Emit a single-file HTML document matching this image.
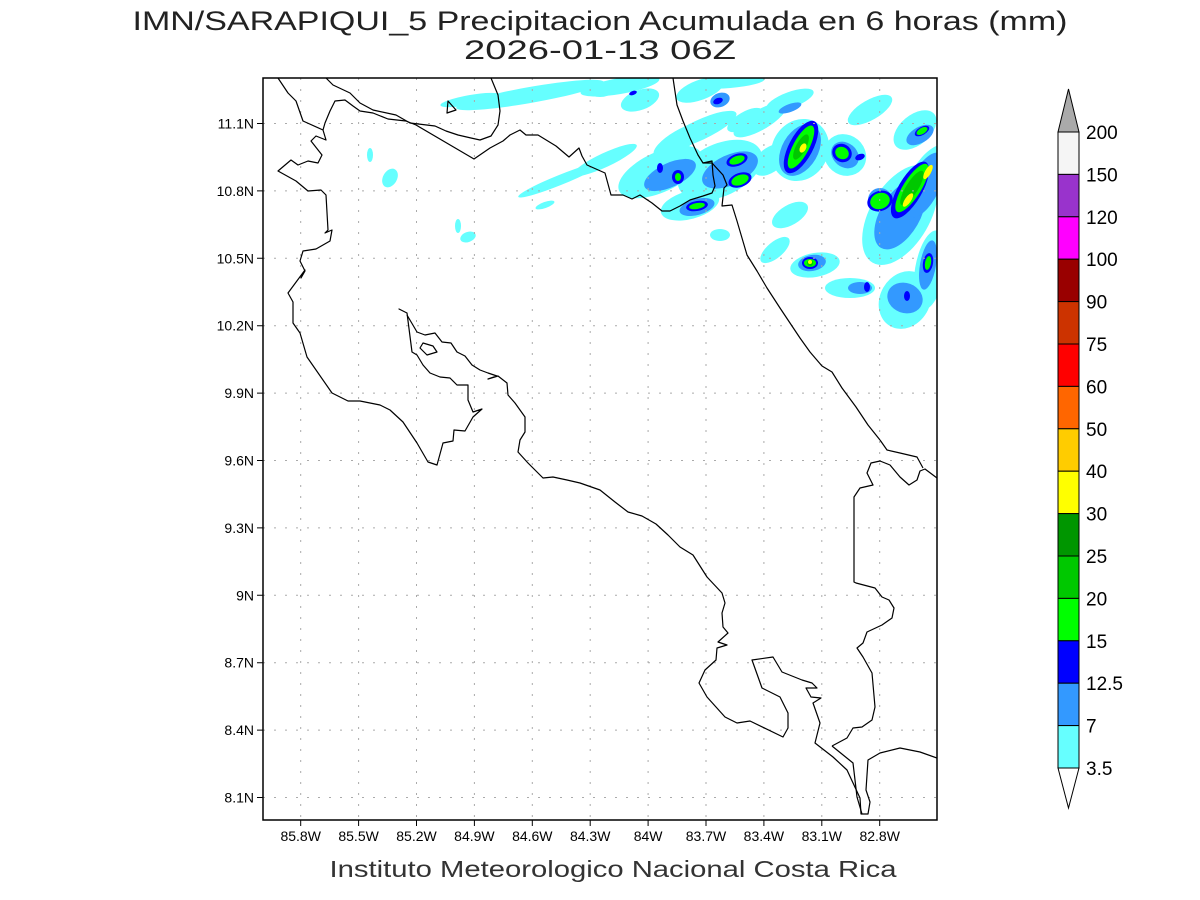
<!DOCTYPE html>
<html><head><meta charset="utf-8"><style>
html,body{margin:0;padding:0;background:#fff;}
svg{display:block;font-family:"Liberation Sans",sans-serif;}
</style></head><body>
<svg width="1200" height="900" viewBox="0 0 1200 900" xmlns="http://www.w3.org/2000/svg">
<rect width="1200" height="900" fill="#fff"/>
<text x="600" y="30" font-size="27" text-anchor="middle" textLength="935" lengthAdjust="spacingAndGlyphs" fill="#222">IMN/SARAPIQUI_5 Precipitacion Acumulada en 6 horas (mm)</text>
<text x="600" y="59" font-size="27" text-anchor="middle" textLength="272" lengthAdjust="spacingAndGlyphs" fill="#222">2026-01-13 06Z</text>
<defs><clipPath id="c"><rect x="263" y="78" width="674" height="742"/></clipPath></defs>
<g clip-path="url(#c)">
<g fill="#66ffff">
<ellipse cx="530" cy="95" rx="75" ry="8" transform="rotate(-10 530 95)"/>
<ellipse cx="620" cy="86" rx="40" ry="8" transform="rotate(-10 620 86)"/>
<ellipse cx="700" cy="90" rx="25" ry="10" transform="rotate(-20 700 90)"/>
<ellipse cx="730" cy="82" rx="35" ry="6" transform="rotate(-5 730 82)"/>
<ellipse cx="560" cy="180" rx="45" ry="5" transform="rotate(-22 560 180)"/>
<ellipse cx="605" cy="160" rx="35" ry="7" transform="rotate(-25 605 160)"/>
<ellipse cx="470" cy="100" rx="30" ry="5" transform="rotate(-10 470 100)"/>
<ellipse cx="660" cy="172" rx="45" ry="20" transform="rotate(-25 660 172)"/>
<ellipse cx="720" cy="170" rx="45" ry="26" transform="rotate(-25 720 170)"/>
<ellipse cx="690" cy="205" rx="30" ry="14" transform="rotate(-15 690 205)"/>
<ellipse cx="680" cy="140" rx="30" ry="10" transform="rotate(-30 680 140)"/>
<ellipse cx="700" cy="130" rx="40" ry="10" transform="rotate(-25 700 130)"/>
<ellipse cx="760" cy="120" rx="30" ry="10" transform="rotate(-30 760 120)"/>
<ellipse cx="800" cy="150" rx="32" ry="28" transform="rotate(-60 800 150)"/>
<ellipse cx="770" cy="160" rx="20" ry="12" transform="rotate(-40 770 160)"/>
<ellipse cx="845" cy="155" rx="20" ry="22" transform="rotate(-50 845 155)"/>
<ellipse cx="790" cy="100" rx="25" ry="8" transform="rotate(-20 790 100)"/>
<ellipse cx="870" cy="110" rx="25" ry="10" transform="rotate(-30 870 110)"/>
<ellipse cx="915" cy="130" rx="25" ry="15" transform="rotate(-40 915 130)"/>
<ellipse cx="900" cy="215" rx="55" ry="30" transform="rotate(-60 900 215)"/>
<ellipse cx="930" cy="180" rx="40" ry="20" transform="rotate(-60 930 180)"/>
<ellipse cx="905" cy="300" rx="30" ry="25" transform="rotate(-60 905 300)"/>
<ellipse cx="930" cy="270" rx="40" ry="15" transform="rotate(-80 930 270)"/>
<ellipse cx="815" cy="265" rx="25" ry="12" transform="rotate(-10 815 265)"/>
<ellipse cx="850" cy="288" rx="25" ry="10"/>
<ellipse cx="775" cy="250" rx="18" ry="8" transform="rotate(-40 775 250)"/>
<ellipse cx="790" cy="215" rx="20" ry="10" transform="rotate(-30 790 215)"/>
<ellipse cx="720" cy="235" rx="10" ry="6"/>
<ellipse cx="745" cy="120" rx="20" ry="8" transform="rotate(-30 745 120)"/>
<ellipse cx="640" cy="100" rx="20" ry="10" transform="rotate(-20 640 100)"/>
<ellipse cx="390" cy="178" rx="7" ry="10" transform="rotate(30 390 178)"/>
<ellipse cx="370" cy="155" rx="3" ry="7"/>
<ellipse cx="468" cy="237" rx="8" ry="5" transform="rotate(-20 468 237)"/>
<ellipse cx="458" cy="226" rx="3" ry="7"/>
<ellipse cx="545" cy="205" rx="10" ry="3" transform="rotate(-20 545 205)"/>
<ellipse cx="600" cy="93" rx="10" ry="4"/>
</g>
<g fill="#3399ff">
<ellipse cx="670" cy="175" rx="28" ry="12" transform="rotate(-25 670 175)"/>
<ellipse cx="730" cy="170" rx="30" ry="15" transform="rotate(-25 730 170)"/>
<ellipse cx="697" cy="207" rx="18" ry="8" transform="rotate(-15 697 207)"/>
<ellipse cx="800" cy="150" rx="28" ry="18" transform="rotate(-60 800 150)"/>
<ellipse cx="845" cy="155" rx="12" ry="15" transform="rotate(-50 845 155)"/>
<ellipse cx="900" cy="215" rx="38" ry="20" transform="rotate(-60 900 215)"/>
<ellipse cx="925" cy="185" rx="35" ry="15" transform="rotate(-65 925 185)"/>
<ellipse cx="905" cy="298" rx="15" ry="18" transform="rotate(-70 905 298)"/>
<ellipse cx="928" cy="265" rx="25" ry="8" transform="rotate(-80 928 265)"/>
<ellipse cx="812" cy="263" rx="14" ry="8" transform="rotate(-10 812 263)"/>
<ellipse cx="860" cy="288" rx="12" ry="6"/>
<ellipse cx="720" cy="100" rx="10" ry="7" transform="rotate(-20 720 100)"/>
<ellipse cx="880" cy="200" rx="12" ry="12"/>
<ellipse cx="920" cy="135" rx="15" ry="8" transform="rotate(-30 920 135)"/>
<ellipse cx="790" cy="108" rx="12" ry="4" transform="rotate(-20 790 108)"/>
</g>
<g fill="#0000ff">
<ellipse cx="678" cy="177" rx="6" ry="7"/>
<ellipse cx="660" cy="168" rx="3" ry="5"/>
<ellipse cx="737" cy="160" rx="11" ry="6" transform="rotate(-20 737 160)"/>
<ellipse cx="740" cy="180" rx="12" ry="7" transform="rotate(-20 740 180)"/>
<ellipse cx="697" cy="206" rx="11" ry="5" transform="rotate(-10 697 206)"/>
<ellipse cx="801" cy="147" rx="29" ry="12" transform="rotate(-62 801 147)"/>
<ellipse cx="842" cy="153" rx="9" ry="10" transform="rotate(-60 842 153)"/>
<ellipse cx="860" cy="157" rx="5" ry="3" transform="rotate(-20 860 157)"/>
<ellipse cx="880" cy="201" rx="13" ry="10" transform="rotate(-20 880 201)"/>
<ellipse cx="910" cy="190" rx="32" ry="12" transform="rotate(-60 910 190)"/>
<ellipse cx="922" cy="131" rx="8" ry="4" transform="rotate(-30 922 131)"/>
<ellipse cx="810" cy="263" rx="8" ry="6"/>
<ellipse cx="867" cy="287" rx="3" ry="5"/>
<ellipse cx="928" cy="263" rx="10" ry="5" transform="rotate(-80 928 263)"/>
<ellipse cx="907" cy="296" rx="3" ry="5"/>
<ellipse cx="718" cy="101" rx="5" ry="3" transform="rotate(-20 718 101)"/>
<ellipse cx="633" cy="93" rx="4" ry="2" transform="rotate(-20 633 93)"/>
</g>
<g fill="#00ff00">
<ellipse cx="678" cy="177" rx="3" ry="4"/>
<ellipse cx="737" cy="160" rx="8" ry="4" transform="rotate(-20 737 160)"/>
<ellipse cx="740" cy="180" rx="9" ry="5" transform="rotate(-20 740 180)"/>
<ellipse cx="697" cy="206" rx="8" ry="3" transform="rotate(-10 697 206)"/>
<ellipse cx="801" cy="147" rx="24" ry="8" transform="rotate(-62 801 147)"/>
<ellipse cx="842" cy="153" rx="6" ry="7" transform="rotate(-60 842 153)"/>
<ellipse cx="880" cy="201" rx="10" ry="8" transform="rotate(-20 880 201)"/>
<ellipse cx="912" cy="188" rx="28" ry="9" transform="rotate(-58 912 188)"/>
<ellipse cx="922" cy="131" rx="6" ry="3" transform="rotate(-30 922 131)"/>
<ellipse cx="810" cy="263" rx="6" ry="4"/>
<ellipse cx="928" cy="263" rx="7" ry="3" transform="rotate(-80 928 263)"/>
</g>
<g fill="#00c800">
<ellipse cx="801" cy="147" rx="14" ry="5" transform="rotate(-62 801 147)"/>
<ellipse cx="912" cy="188" rx="20" ry="6" transform="rotate(-58 912 188)"/>
<ellipse cx="810" cy="263" rx="3" ry="3"/>
</g>
<g fill="#ffff00">
<ellipse cx="803" cy="148" rx="5" ry="3" transform="rotate(-62 803 148)"/>
<ellipse cx="908" cy="200" rx="8" ry="3" transform="rotate(-55 908 200)"/>
<ellipse cx="928" cy="172" rx="8" ry="3" transform="rotate(-60 928 172)"/>
<ellipse cx="810" cy="262" rx="2" ry="2"/>
</g>
</g>
<g stroke="#aaa" stroke-width="1" stroke-dasharray="2,9" fill="none">
<path d="M300.7 78V820M358.6 78V820M416.5 78V820M474.4 78V820M532.3 78V820M590.2 78V820M648.1 78V820M706 78V820M763.9 78V820M821.8 78V820M879.7 78V820"/>
<path d="M263 123.5H937M263 190.9H937M263 258.3H937M263 325.7H937M263 393.1H937M263 460.5H937M263 527.9H937M263 595.3H937M263 662.7H937M263 730.1H937M263 797.5H937"/>
</g>
<g clip-path="url(#c)" fill="none" stroke="#000" stroke-width="1.2" stroke-linejoin="round">
<polyline points="278,78 288,93 296,101 303,121 323,130 326,140 316,136 311,141 322,155 318,163 308,161 298,165 291,160 278,171 296,181 308,191 321,190 326,195 328,230 325,233 332,230 330,241 316,249 303,251 300,261 305,271 301,278 305,270 288,293 293,302 293,323 300,333 307,357 332,393 348,401 360,401 380,405 390,410 403,422 417,443 428,462 437,465 443,443 453,441 454,430 465,431 473,417 482,409 473,412 468,400 468,385 457,385 450,378 440,377 430,373 423,365 417,355 412,352 407,313 399,309 405,312"/>
<polyline points="407,315 417,332 425,335 435,333 442,342 451,343 457,352 465,356 472,365 480,370 488,373 497,376 488,379 498,376 507,383 508,395 515,403 525,417 525,432 520,440 518,452 528,463 543,478 553,477 567,480 580,483 600,490 615,502 628,512 642,516 656,524 668,535 680,547 693,555 707,577 722,593 725,603 722,613 723,627 728,633 718,642 727,645 717,648 716,660 705,670 699,683 707,697 725,717 737,723 750,721 783,737 788,728 788,713 780,697 762,688 752,660 773,657 782,672 802,680 812,683 817,688 806,688 811,697 821,698 813,703 820,723 815,743 833,757 847,770 860,798 861,814 868,814 870,802 866,790 868,760 880,753 900,748 920,752 937,758"/>
<polyline points="832,746 847,738 853,728 862,727 872,720 875,707 872,673 863,657 857,648 863,643 867,632 882,625 892,618 894,608 889,600 882,597 875,588 856,583 854,582 854,497 860,488 873,485 867,473 871,463 880,461 890,465 900,477 909,485 917,480 920,471 925,469 937,478"/>
<polyline points="832,746 853,763 857,797 862,814"/>
<polyline points="880,440 887,450 900,453 917,457 923,468"/>
<polyline points="673,78 677,105 683,121 690,138 698,155 703,163 712,163 723,175 727,185 724,188 722,206 732,205 737,221 742,238 747,255 757,271 767,288 780,308 790,323 800,338 810,352 822,366 832,372 842,388 856,407 868,425 880,440"/>
<polyline points="323,130 325,123 330,111 335,101 345,100 353,106 360,111 373,113 388,119 406,121 416,125 474,159 490,148 503,141 510,135 520,130 526,135 538,135 556,146 569,157 579,148 582,156 587,165 605,173 611,195 623,195 632,199 640,195 652,203 662,211 670,211 680,206 690,200 703,196 712,193 715,186 713,175 712,161 703,163"/>
<polyline points="326,78 333,85 350,93 360,103 373,110 396,115 410,123 435,126 446,131 458,135 471,138 480,140 491,136 498,125 500,111 498,95 491,78"/>
<polygon points="448,101 456,110 447,113"/>
<polygon points="420,348 423,343 433,346 437,352 427,355"/>
</g>
<rect x="263" y="78" width="674" height="742" fill="none" stroke="#000" stroke-width="1.5"/>
<g stroke="#000" stroke-width="1">
<path d="M300.7 820v6M358.6 820v6M416.5 820v6M474.4 820v6M532.3 820v6M590.2 820v6M648.1 820v6M706 820v6M763.9 820v6M821.8 820v6M879.7 820v6"/>
<path d="M263 123.5h-6M263 190.9h-6M263 258.3h-6M263 325.7h-6M263 393.1h-6M263 460.5h-6M263 527.9h-6M263 595.3h-6M263 662.7h-6M263 730.1h-6M263 797.5h-6"/>
</g>
<g font-size="14" text-anchor="middle">
<text x="300.7" y="841">85.8W</text><text x="358.6" y="841">85.5W</text><text x="416.5" y="841">85.2W</text><text x="474.4" y="841">84.9W</text><text x="532.3" y="841">84.6W</text><text x="590.2" y="841">84.3W</text><text x="648.1" y="841">84W</text><text x="706" y="841">83.7W</text><text x="763.9" y="841">83.4W</text><text x="821.8" y="841">83.1W</text><text x="879.7" y="841">82.8W</text>
</g>
<g font-size="14" text-anchor="end">
<text x="254" y="128.5">11.1N</text><text x="254" y="195.9">10.8N</text><text x="254" y="263.3">10.5N</text><text x="254" y="330.7">10.2N</text><text x="254" y="398.1">9.9N</text><text x="254" y="465.5">9.6N</text><text x="254" y="532.9">9.3N</text><text x="254" y="600.3">9N</text><text x="254" y="667.7">8.7N</text><text x="254" y="735.1">8.4N</text><text x="254" y="802.5">8.1N</text>
</g>
<text x="613" y="877" font-size="23" text-anchor="middle" textLength="567" lengthAdjust="spacingAndGlyphs" fill="#333">Instituto Meteorologico Nacional Costa Rica</text>
<g stroke="#000" stroke-width="1">
<polygon points="1058,132 1079,132 1068.5,89" fill="#aaaaaa"/>
<polygon points="1058,768 1079,768 1068.5,808" fill="#fff"/>
<rect x="1058" y="132" width="21" height="42.4" fill="#f5f5f5"/>
<rect x="1058" y="174.4" width="21" height="42.4" fill="#9933cc"/>
<rect x="1058" y="216.8" width="21" height="42.4" fill="#ff00ff"/>
<rect x="1058" y="259.2" width="21" height="42.4" fill="#990000"/>
<rect x="1058" y="301.6" width="21" height="42.4" fill="#cc3300"/>
<rect x="1058" y="344" width="21" height="42.4" fill="#ff0000"/>
<rect x="1058" y="386.4" width="21" height="42.4" fill="#ff6600"/>
<rect x="1058" y="428.8" width="21" height="42.4" fill="#ffcc00"/>
<rect x="1058" y="471.2" width="21" height="42.4" fill="#ffff00"/>
<rect x="1058" y="513.6" width="21" height="42.4" fill="#009600"/>
<rect x="1058" y="556" width="21" height="42.4" fill="#00c800"/>
<rect x="1058" y="598.4" width="21" height="42.4" fill="#00ff00"/>
<rect x="1058" y="640.8" width="21" height="42.4" fill="#0000ff"/>
<rect x="1058" y="683.2" width="21" height="42.4" fill="#3399ff"/>
<rect x="1058" y="725.6" width="21" height="42.4" fill="#66ffff"/>
</g>
<g font-size="19">
<text x="1086" y="139">200</text><text x="1086" y="181.4">150</text><text x="1086" y="223.8">120</text><text x="1086" y="266.2">100</text><text x="1086" y="308.6">90</text><text x="1086" y="351">75</text><text x="1086" y="393.4">60</text><text x="1086" y="435.8">50</text><text x="1086" y="478.2">40</text><text x="1086" y="520.6">30</text><text x="1086" y="563">25</text><text x="1086" y="605.4">20</text><text x="1086" y="647.8">15</text><text x="1086" y="690.2">12.5</text><text x="1086" y="732.6">7</text><text x="1086" y="775">3.5</text>
</g>
</svg>
</body></html>
